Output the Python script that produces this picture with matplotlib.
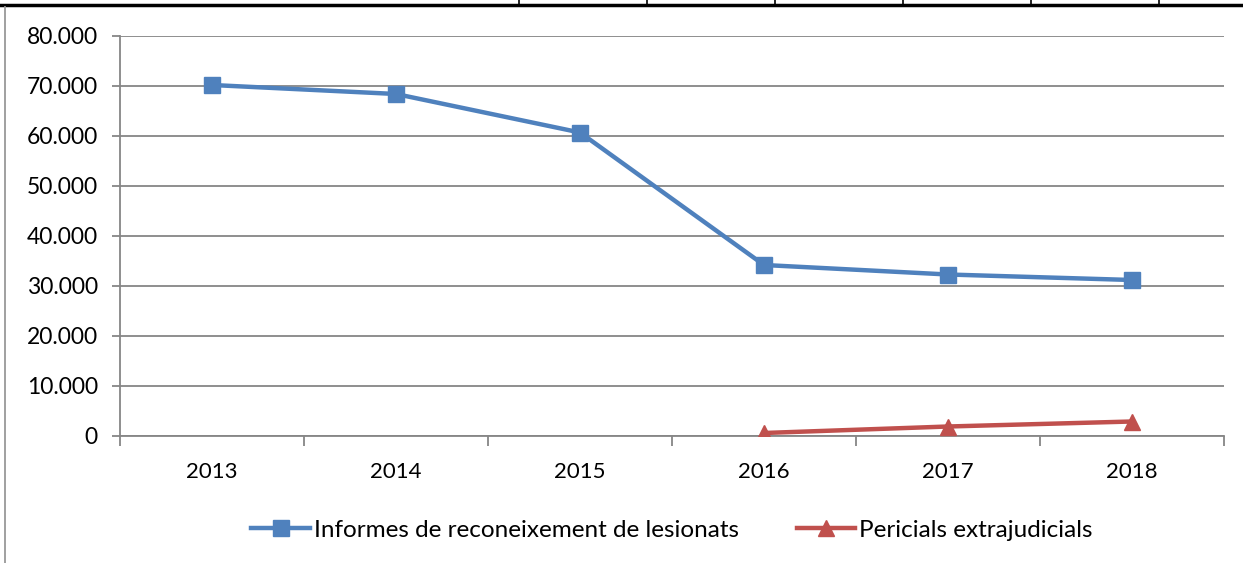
import numpy as np
import matplotlib
matplotlib.use('Agg')
import matplotlib.pyplot as plt
from matplotlib.ticker import FuncFormatter
from matplotlib.lines import Line2D

plt.rcParams['font.family'] = ['Lato', 'DejaVu Sans']

years = ['2013', '2014', '2015', '2016', '2017', '2018']
informes = [70200, 68400, 60700, 34200, 32300, 31200]
pericials_years = ['2016', '2017', '2018']
pericials = [600, 1900, 2900]

blue = '#4F81BD'
red = '#C0504D'
grid_col = '#868686'

fig = plt.figure(figsize=(12.43, 5.63), dpi=100)
ax = fig.add_axes([120/1243, 1-436/563, (1224-120)/1243, 400/563])

x = np.arange(len(years))
xp = [years.index(y) for y in pericials_years]

ax.plot(x, informes, color=blue, lw=3.2, marker='s', ms=11, mec=blue,
        label='Informes de reconeixement de lesionats', zorder=3)
ax.plot(xp, pericials, color=red, lw=3.2, marker='^', ms=11, mec=red,
        label='Pericials extrajudicials', zorder=3)

ax.set_xlim(-0.5, len(years) - 0.5)
ax.set_ylim(0, 80000)
ax.set_yticks(np.arange(0, 80001, 10000))
ax.yaxis.set_major_formatter(FuncFormatter(lambda v, p: '0' if v == 0 else f'{int(v):,}'.replace(',', '.')))
ax.grid(axis='y', color=grid_col, lw=1.3)
ax.set_axisbelow(True)

# boundary ticks (major, no labels), labels at centres (minor)
ax.set_xticks(np.arange(-0.5, len(years), 1.0))
ax.set_xticklabels([])
ax.set_xticks(x, minor=True)
ax.set_xticklabels(years, minor=True)
ax.tick_params(axis='x', which='major', length=7, color=grid_col, width=1.3)
ax.tick_params(axis='x', which='minor', length=0, pad=19, labelsize=16)
ax.tick_params(axis='y', length=6, color=grid_col, width=1.3, labelsize=16.5, pad=10)

for s in ['top', 'right']:
    ax.spines[s].set_visible(False)
for s in ['left', 'bottom']:
    ax.spines[s].set_color(grid_col)
    ax.spines[s].set_linewidth(1.3)

ax.legend(loc='center', bbox_to_anchor=(0.5, -0.235), ncol=2, frameon=False,
          fontsize=17.5, handlelength=2.4, handletextpad=0.16, columnspacing=2.4,
          borderpad=0, borderaxespad=0)

# page/table border fragments
fig.add_artist(Line2D([0, 1], [1-4.5/563, 1-4.5/563], color='black', lw=2.5))
for xv in [519, 647, 775, 903, 1031, 1159]:
    fig.add_artist(Line2D([xv/1243, xv/1243], [1, 1-4.5/563], color='black', lw=1.2))
fig.add_artist(Line2D([5/1243, 5/1243], [1-7/563, 0], color='#999999', lw=1.3))

fig.savefig('out.png', dpi=100)
